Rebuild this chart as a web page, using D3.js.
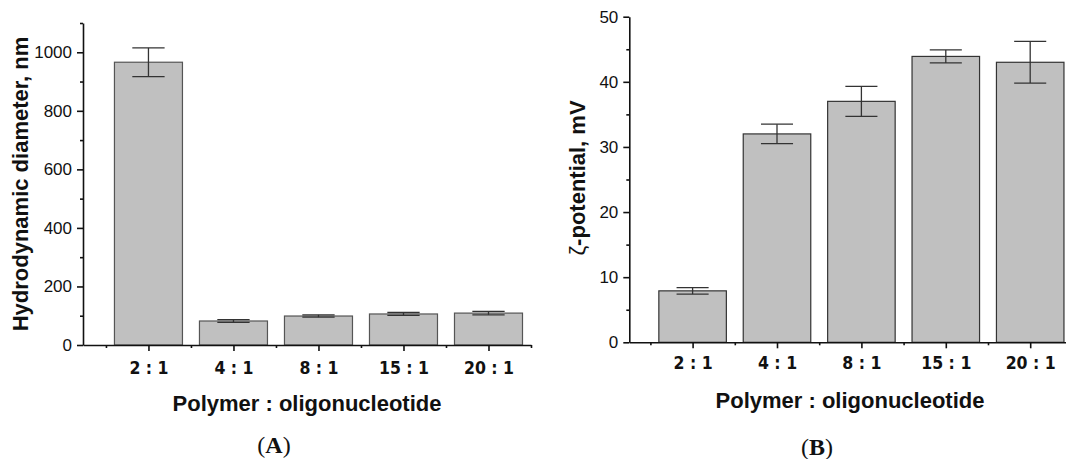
<!DOCTYPE html>
<html>
<head>
<meta charset="utf-8">
<title>Polyplex size and zeta potential</title>
<script src="https://d3js.org/d3.v7.min.js"></script>
<style>
  body { margin: 0; background: #fff; }
  svg { display: block; }
  .tick text { font-family: "Liberation Sans", Arial, sans-serif; font-size: 17px; fill: #111; }
  .xlab text { font-family: "DejaVu Sans Condensed", "DejaVu Sans", sans-serif; font-stretch: condensed; font-weight: bold; font-size: 17.5px; }
  .ttl { font-family: "Liberation Sans", Arial, sans-serif; font-weight: bold; font-size: 22px; fill: #111; }
  .panel { font-family: "Liberation Serif", "Times New Roman", serif; font-size: 24px; fill: #111; }
</style>
</head>
<body>
<script>
// data
var ratios = ["2 : 1", "4 : 1", "8 : 1", "15 : 1", "20 : 1"];
var diameter = [966, 82, 99, 106, 109];
var diameterErr = [49, 5, 4, 5, 6];
var zeta = [7.9, 32, 37, 43.9, 43];
var zetaErr = [0.5, 1.5, 2.3, 1.0, 3.2];
var diamTicks = [0, 200, 400, 600, 800, 1000];
var zetaTicks = [0, 10, 20, 30, 40, 50];

var svg = d3.select("body").append("svg")
    .attr("width", 1066)
    .attr("height", 459);

function panel(opt) {
  var pos = ratios.map(function(d, i) { return i + 1; });
  var x = d3.scaleLinear().domain(opt.xDom).range(opt.xRange);
  var y = d3.scaleLinear().domain(opt.yDom).range(opt.yRange);
  var g = svg.append("g");
  var bw = x(1.4) - x(0.6);
  var cap = x(1.19) - x(0.81);

  // bars
  g.selectAll("rect.bar").data(opt.values).enter().append("rect")
    .attr("class", "bar")
    .attr("x", function(d, i) { return x(pos[i]) - bw / 2; })
    .attr("y", function(d) { return y(d); })
    .attr("width", bw)
    .attr("height", function(d) { return y(0) - y(d); })
    .attr("fill", "#c0c0c0")
    .attr("stroke", opt.barStroke)
    .attr("stroke-width", 1.2);

  // error bars
  var eb = g.selectAll("g.err").data(opt.values).enter().append("g")
    .attr("class", "err")
    .attr("stroke", "#333")
    .attr("stroke-width", 1.3);
  eb.append("line")
    .attr("x1", function(d, i) { return x(pos[i]); })
    .attr("x2", function(d, i) { return x(pos[i]); })
    .attr("y1", function(d, i) { return y(d + opt.errs[i]); })
    .attr("y2", function(d, i) { return y(d - opt.errs[i]); });
  [1, -1].forEach(function(s) {
    eb.append("line")
      .attr("x1", function(d, i) { return x(pos[i]) - cap / 2; })
      .attr("x2", function(d, i) { return x(pos[i]) + cap / 2; })
      .attr("y1", function(d, i) { return y(d + s * opt.errs[i]); })
      .attr("y2", function(d, i) { return y(d + s * opt.errs[i]); });
  });

  // y axis, major + minor
  g.append("g").attr("transform", "translate(" + opt.xRange[0] + ",0)")
    .call(d3.axisLeft(y).tickValues(opt.yTicks).tickSize(6).tickSizeOuter(0).tickPadding(5)
      .tickFormat(d3.format("d")));
  g.append("g").attr("transform", "translate(" + opt.xRange[0] + ",0)")
    .call(d3.axisLeft(y).tickValues(opt.yMinor).tickSize(3).tickFormat(""))
    .select(".domain").remove();

  // x axis, major + minor
  var xAxis = g.append("g").attr("class", "xlab").attr("transform", "translate(0," + opt.yRange[0] + ")")
    .call(d3.axisBottom(x).tickValues(pos).tickSize(6).tickSizeOuter(0)
      .tickFormat(function(d) { return ratios[d - 1]; }));
  xAxis.selectAll("text").attr("dy", null).attr("y", opt.labY);
  g.append("g").attr("transform", "translate(0," + opt.yRange[0] + ")")
    .call(d3.axisBottom(x).tickValues([0.5, 1.5, 2.5, 3.5, 4.5, 5.5]).tickSize(3).tickFormat(""))
    .select(".domain").remove();

  g.selectAll(".domain, .tick line").attr("stroke", "#111").attr("stroke-width", 1.6);

  // titles
  g.append("text").attr("class", "ttl")
    .attr("x", opt.xTitleX).attr("y", opt.xTitleY)
    .attr("text-anchor", "middle")
    .text("Polymer : oligonucleotide");
  var yt = g.append("text").attr("class", "ttl")
    .attr("transform", "translate(" + opt.yTitleX + "," + opt.yTitleY + ") rotate(-90)")
    .attr("text-anchor", "middle");
  opt.yTitle.forEach(function(p) {
    yt.append("tspan").attr("font-weight", p[1]).text(p[0]);
  });
  var pl = g.append("text").attr("class", "panel")
    .attr("x", opt.xTitleX - 33).attr("y", opt.panelY)
    .attr("text-anchor", "middle");
  pl.append("tspan").text("(");
  pl.append("tspan").attr("font-weight", "bold").text(opt.letter);
  pl.append("tspan").text(")");
}

panel({
  values: diameter, errs: diameterErr,
  xDom: [0.23, 5.5], xRange: [83, 531],
  yDom: [0, 1100], yRange: [345, 23],
  yTicks: diamTicks, yMinor: d3.range(100, 1101, 200),
  barStroke: "#555", labY: 29,
  xTitleX: 307, xTitleY: 411,
  yTitle: [["Hydrodynamic diameter, nm", "bold"]],
  yTitleX: 28, yTitleY: 184,
  letter: "A", panelY: 453
});

panel({
  values: zeta, errs: zetaErr,
  xDom: [0.25, 5.5], xRange: [629.3, 1072.4],
  yDom: [0, 50], yRange: [342.3, 16.7],
  yTicks: zetaTicks, yMinor: d3.range(5, 50, 10),
  barStroke: "#333", labY: 27,
  xTitleX: 850, xTitleY: 408,
  yTitle: [["ζ", "normal"], ["-potential, mV", "bold"]],
  yTitleX: 585, yTitleY: 178,
  letter: "B", panelY: 455
});
</script>
</body>
</html>
